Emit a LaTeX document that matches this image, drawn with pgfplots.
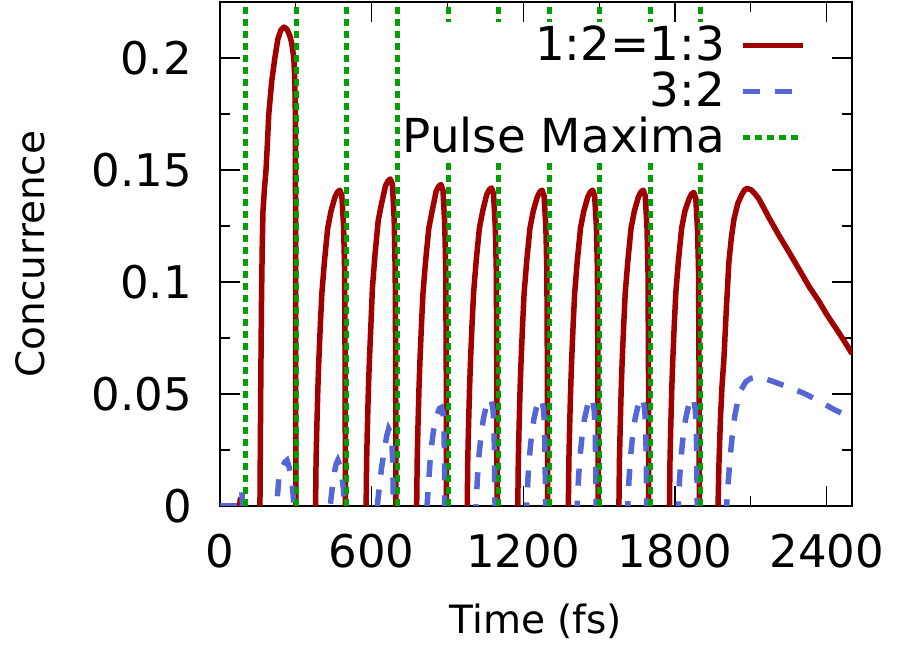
\documentclass[border=0pt]{standalone}
\usepackage{fontspec}
\setmainfont{DejaVu Sans}
\newfontfamily\legfont{DejaVu Sans}[Kerning=Off]
\usepackage{pgfplots}
\pgfplotsset{compat=1.18}
\definecolor{cred}{RGB}{160,0,0}
\definecolor{cblue}{RGB}{85,102,214}
\definecolor{cgreen}{RGB}{0,160,0}
\begin{document}
\begin{tikzpicture}
\begin{axis}[
  scale only axis, width=632pt, height=504pt,
  xmin=0, xmax=2500, ymin=0, ymax=0.225,
  xtick={0,600,1200,1800,2400}, xticklabels={0,600,1200,1800,2400},
  ytick={0,0.05,0.1,0.15,0.2}, yticklabels={0,0.05,0.1,0.15,0.2},
  minor x tick num=1, minor y tick num=1,
  tick align=inside, major tick length=20pt, minor tick length=10pt,
  tick style={black, line width=1.2pt},
  axis line style={black, line width=1.5pt},
  tick label style={font=\fontsize{45}{54}\selectfont},
  yticklabel style={anchor=east, inner sep=0pt, xshift=-28pt},
  xticklabel style={anchor=north, inner sep=0pt, yshift=-28pt},
  xlabel={Time (fs)}, ylabel={Concurrence},
  label style={font=\fontsize{39}{46}\selectfont},
  xlabel style={at={(axis description cs:0.5,-0.252)}, anchor=base, inner sep=0pt},
  ylabel style={at={(axis description cs:-0.277,0.5)}, anchor=base, rotate=0, inner sep=0pt},
  legend cell align=right, legend plot pos=right,
  legend image code/.code={\draw[#1] (0pt,0pt) -- (60pt,0pt);},
  legend style={at={(axis description cs:0.930,0.960)}, anchor=north east,
    draw=none, fill=white, inner sep=2pt, row sep=4pt, column sep=15pt,
    font=\legfont\fontsize{46.8}{56}\selectfont,
    nodes={inner sep=0pt, text height=36pt, text depth=6pt}},
  unbounded coords=jump,
]
\addplot[cred, line width=5.5pt, line join=round] coordinates {
(0,0) (78,0) (80,0.003) (82,-0.05)
(155,-0.05) (158,0) (161,0.05) (164,0.09) (167,0.115) (170,0.1316) (176,0.142) (182,0.15) (188,0.163) (193,0.175) (205,0.19) (217,0.2) (229,0.2085) (241,0.2125) (253,0.2138) (265,0.2128) (276,0.21) (284,0.2065) (292,0.2) (296,0.19) (298,0.175) (299,0.12) (299.5,0.05) (300,0) (303,-0.05)
(375,-0.05) (378,0) (380,0.02) (383,0.035) (387,0.052) (391,0.065) (397,0.081) (403,0.095) (413,0.109) (426,0.124) (439,0.1316) (455,0.138) (465,0.1402) (474,0.141) (482,0.1385) (489,0.1245) (493,0.105) (495,0.06) (496,0) (499,-0.05)
(575,-0.05) (578,0) (580,0.02) (583,0.035) (587,0.052) (591,0.065) (597,0.081) (603,0.0975) (613,0.112) (626,0.1275) (639,0.135) (655,0.143) (665,0.1452) (674,0.146) (682,0.1435) (689,0.128) (693,0.105) (695,0.06) (696,0) (699,-0.05)
(775,-0.05) (778,0) (780,0.02) (783,0.035) (787,0.052) (791,0.065) (797,0.081) (803,0.095) (813,0.109) (826,0.124) (839,0.1316) (855,0.1405) (865,0.1427) (874,0.1435) (882,0.141) (889,0.126) (893,0.105) (895,0.06) (896,0) (899,-0.05)
(975,-0.05) (978,0) (980,0.02) (983,0.035) (987,0.052) (991,0.065) (997,0.081) (1003,0.095) (1013,0.109) (1026,0.124) (1039,0.1316) (1055,0.139) (1065,0.1412) (1074,0.142) (1082,0.1395) (1089,0.1245) (1093,0.105) (1095,0.06) (1096,0) (1099,-0.05)
(1175,-0.05) (1178,0) (1180,0.02) (1183,0.035) (1187,0.052) (1191,0.065) (1197,0.081) (1203,0.095) (1213,0.109) (1226,0.124) (1239,0.1316) (1255,0.138) (1265,0.1402) (1274,0.141) (1282,0.1385) (1289,0.1245) (1293,0.105) (1295,0.06) (1296,0) (1299,-0.05)
(1375,-0.05) (1378,0) (1380,0.02) (1383,0.035) (1387,0.052) (1391,0.065) (1397,0.081) (1403,0.095) (1413,0.109) (1426,0.124) (1439,0.1316) (1455,0.138) (1465,0.1402) (1474,0.141) (1482,0.1385) (1489,0.1245) (1493,0.105) (1495,0.06) (1496,0) (1499,-0.05)
(1575,-0.05) (1578,0) (1580,0.02) (1583,0.035) (1587,0.052) (1591,0.065) (1597,0.081) (1603,0.095) (1613,0.109) (1626,0.124) (1639,0.1316) (1655,0.138) (1665,0.1402) (1674,0.141) (1682,0.1385) (1689,0.1245) (1693,0.105) (1695,0.06) (1696,0) (1699,-0.05)
(1775,-0.05) (1778,0) (1780,0.02) (1783,0.035) (1787,0.052) (1791,0.065) (1797,0.081) (1803,0.095) (1813,0.109) (1826,0.124) (1839,0.1316) (1855,0.137) (1865,0.1392) (1874,0.140) (1882,0.1375) (1889,0.123) (1893,0.105) (1895,0.06) (1896,0) (1899,-0.05)
(1967,-0.05) (1970,0) (1974,0.02) (1980,0.04) (1986,0.054) (1993,0.065) (2003,0.088) (2013,0.109) (2023,0.12) (2033,0.128) (2048,0.135) (2064,0.139) (2075,0.141) (2084,0.1418) (2100,0.1412) (2115,0.1395) (2131,0.1372) (2150,0.1333) (2170,0.129) (2190,0.125) (2210,0.121) (2250,0.1135) (2289,0.106) (2330,0.098) (2368,0.0916) (2400,0.0855) (2435,0.0796) (2470,0.0735) (2500,0.068)
};
\addlegendentry{1:2=1:3}
\addplot[cblue, line width=5.5pt, dash pattern=on 17pt off 15pt] coordinates {
(0,0) (80,0) (84,0.003) (87,0.006) (89,0) (92,-0.03)
(221,-0.03) (224,0) (229,0.007) (233,0.0125) (245,0.0168) (257,0.0196) (265,0.0204) (272,0.018) (280,0.014) (288,0.007) (292,0) (295,-0.03)
(433,-0.03) (436,0) (444,0.008) (454,0.016) (460,0.019) (466,0.0204) (474,0.018) (482,0.013) (488,0.008) (492,0) (495,-0.03)
(619,-0.03) (622,0) (630,0.008) (639,0.017) (650,0.025) (659,0.031) (667,0.0345) (674,0.033) (680,0.028) (683,0.02) (685,0.008) (686,0) (689,-0.03)
(816,-0.03) (819,0) (825,0.01) (831,0.02) (837,0.027) (845,0.034) (856,0.04) (868,0.0435) (876,0.044) (882,0.042) (886,0.035) (888,0.02) (889,0) (892,-0.03)
(1011,-0.03) (1013,0) (1018,0.012) (1024,0.022) (1032,0.031) (1042,0.039) (1052,0.044) (1062,0.0475) (1068,0.048) (1074,0.047) (1080,0.043) (1084,0.035) (1086,0.02) (1088,0) (1091,-0.03)
(1211,-0.03) (1213,0) (1218,0.012) (1224,0.022) (1232,0.031) (1242,0.039) (1252,0.044) (1262,0.0475) (1268,0.048) (1274,0.047) (1280,0.043) (1284,0.035) (1286,0.02) (1288,0) (1291,-0.03)
(1411,-0.03) (1413,0) (1418,0.012) (1424,0.022) (1432,0.031) (1442,0.039) (1452,0.044) (1462,0.048) (1468,0.0485) (1474,0.0475) (1480,0.043) (1484,0.035) (1486,0.02) (1488,0) (1491,-0.03)
(1611,-0.03) (1613,0) (1618,0.012) (1624,0.022) (1632,0.031) (1642,0.039) (1652,0.044) (1662,0.048) (1668,0.0485) (1674,0.0475) (1680,0.043) (1684,0.035) (1686,0.02) (1688,0) (1691,-0.03)
(1811,-0.03) (1813,0) (1818,0.012) (1824,0.022) (1832,0.031) (1842,0.039) (1852,0.044) (1862,0.048) (1868,0.0485) (1874,0.0475) (1880,0.043) (1884,0.035) (1886,0.02) (1888,0) (1891,-0.03)
(2001,-0.03) (2004,0) (2010,0.01) (2018,0.022) (2026,0.031) (2036,0.04) (2048,0.047) (2062,0.052) (2080,0.0555) (2100,0.057) (2125,0.0575) (2150,0.057) (2190,0.0555) (2250,0.053) (2310,0.0503) (2368,0.047) (2430,0.043) (2500,0.0393)
};
\addlegendentry{3:2}
\addplot[cgreen, line width=5pt, dash pattern=on 7pt off 5pt] coordinates {
(102,0) (102,0.225) (102,nan)
(302,0) (302,0.225) (302,nan)
(502,0) (502,0.225) (502,nan)
(702,0) (702,0.225) (702,nan)
(902,0) (902,0.225) (902,nan)
(1102,0) (1102,0.225) (1102,nan)
(1302,0) (1302,0.225) (1302,nan)
(1502,0) (1502,0.225) (1502,nan)
(1702,0) (1702,0.225) (1702,nan)
(1902,0) (1902,0.225)
};
\addlegendentry{Pulse Maxima}
\end{axis}
\pgfresetboundingbox
\path[use as bounding box] ([shift={(-220pt,-139pt)}]current axis.south west) rectangle ([shift={(45pt,2pt)}]current axis.north east);
\end{tikzpicture}
\end{document}
